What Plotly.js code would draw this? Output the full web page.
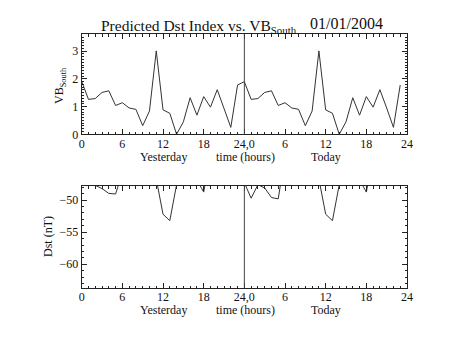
<!DOCTYPE html>
<html>
<head>
<meta charset="utf-8">
<script src="https://cdn.plot.ly/plotly-3.0.1.min.js"></script>
<style>html,body{margin:0;padding:0;background:#fff;}#chart{width:453px;height:340px;}</style>
</head>
<body>
<div id="chart"></div>
<script>
// ---- data ----
const hoursOfDay = [0,1,2,3,4,5,6,7,8,9,10,11,12,13,14,15,16,17,18,19,20,21,22,23];
const vbYesterday = [1.91,1.26,1.29,1.51,1.57,1.04,1.14,0.95,0.90,0.31,0.84,3.01,0.88,0.76,0.00,0.45,1.32,0.69,1.36,0.98,1.61,0.95,0.25,1.78];
const vbToday     = [1.90,1.26,1.29,1.51,1.57,1.04,1.14,0.95,0.90,0.31,0.84,3.01,0.88,0.76,0.00,0.45,1.32,0.69,1.36,0.98,1.61,0.95,0.25,1.78];
const dstYesterday = [-46.0,-46.5,-47.7,-48.2,-48.95,-49.05,-45.7,-45.0,-44.5,-44.8,-45.5,-46.7,-52.2,-53.2,-47.6,-45.8,-45.5,-46.85,-48.75,-43.0,-44.0,-44.5,-45.5,-46.0];
const dstToday     = [-47.3,-49.7,-47.6,-48.1,-49.6,-49.8,-43.1,-44.0,-44.5,-45.0,-45.5,-46.7,-52.2,-53.2,-47.6,-45.8,-45.5,-46.85,-48.75,-43.0,-44.0,-44.5,-45.5,-46.0];
const xTickVals = [0,6,12,18,24,30,36,42,48];
const xTickText = ['0','6','12','18','24,0','6','12','18','24'];
const vbRange = [0, 3.62];
const dstRange = [-63.7, -47.8];
const dayBoundary = 24;

// ---- build ----
const W = 453, H = 340;
const px = v => v / W;
const py = v => 1 - v / H;
const hoursAll = hoursOfDay.concat(hoursOfDay.map(h => h + 24));
const FONT = 'Liberation Serif, DejaVu Serif, serif';
const ink = '#222';

const traces = [
  {x: hoursAll, y: vbYesterday.concat(vbToday), xaxis: 'x', yaxis: 'y', mode: 'lines',
   line: {color: '#333', width: 1}, hoverinfo: 'skip'},
  {x: hoursAll, y: dstYesterday.concat(dstToday), xaxis: 'x2', yaxis: 'y2', mode: 'lines',
   line: {color: '#333', width: 1}, hoverinfo: 'skip'}
];

function xAxis(anchor, dom) {
  return {
    domain: dom, anchor: anchor, range: [0, 48], tickmode: 'array', tickvals: xTickVals, ticktext: xTickText,
    ticks: 'inside', ticklen: 5, tickcolor: ink, tickwidth: 1, showline: true, linecolor: ink, linewidth: 1,
    mirror: 'allticks', showgrid: false, zeroline: false, ticklabelstandoff: -2,
    minor: {dtick: 1, ticks: 'inside', ticklen: 2.5, tickcolor: ink, showgrid: false},
    tickfont: {family: FONT, size: 12, color: '#111'}
  };
}
function yAxis(anchor, dom, range, dtick, mdtick) {
  return {
    domain: dom, anchor: anchor, range: range, dtick: dtick, tick0: 0,
    ticks: 'inside', ticklen: 5, tickcolor: ink, tickwidth: 1, showline: true, linecolor: ink, linewidth: 1,
    mirror: 'allticks', showgrid: false, zeroline: false, ticklabelstandoff: 0,
    minor: {dtick: mdtick, ticks: 'inside', ticklen: 2.5, tickcolor: ink, showgrid: false},
    tickfont: {family: FONT, size: 12, color: '#111'}
  };
}

const xDom = [px(81.7), px(407)];
const layout = {
  width: W, height: H, margin: {l: 0, r: 0, t: 0, b: 0},
  paper_bgcolor: '#fff', plot_bgcolor: '#fff', showlegend: false,
  xaxis: xAxis('y', xDom),
  yaxis: yAxis('x', [py(134.3), py(34)], vbRange, 1, 0.1),
  xaxis2: xAxis('y2', xDom),
  yaxis2: yAxis('x2', [py(288), py(186)], dstRange, 5, 1),
  shapes: [
    {type: 'line', xref: 'x', yref: 'y domain', x0: dayBoundary, x1: dayBoundary, y0: 0, y1: 1, line: {color: '#444', width: 1}},
    {type: 'line', xref: 'x2', yref: 'y2 domain', x0: dayBoundary, x1: dayBoundary, y0: 0, y1: 1, line: {color: '#444', width: 1}}
  ],
  annotations: []
};
const ann = (text, x, y, opts) => Object.assign({text: text, x: px(x), y: py(y), xref: 'paper', yref: 'paper',
  showarrow: false, xanchor: 'center', yanchor: 'middle', font: {family: FONT, size: 12, color: '#111'}}, opts || {});
layout.annotations.push(
  ann('Predicted Dst Index vs. VB<sub>South</sub>', 99, 27, {xanchor: 'left', font: {family: FONT, size: 15.5, color: '#111'}}),
  ann('01/01/2004', 346, 24, {font: {family: FONT, size: 16, color: '#111'}}),
  ann('Yesterday', 163, 157), ann('time (hours)', 245, 157), ann('Today', 326, 157),
  ann('Yesterday', 163, 310), ann('time (hours)', 245, 310), ann('Today', 326, 310),
  ann('VB<sub>South</sub>', 60, 86, {textangle: -90}),
  ann('Dst (nT)', 48, 237, {textangle: -90})
);

Plotly.newPlot('chart', traces, layout, {staticPlot: true, displayModeBar: false});
</script>
</body>
</html>
